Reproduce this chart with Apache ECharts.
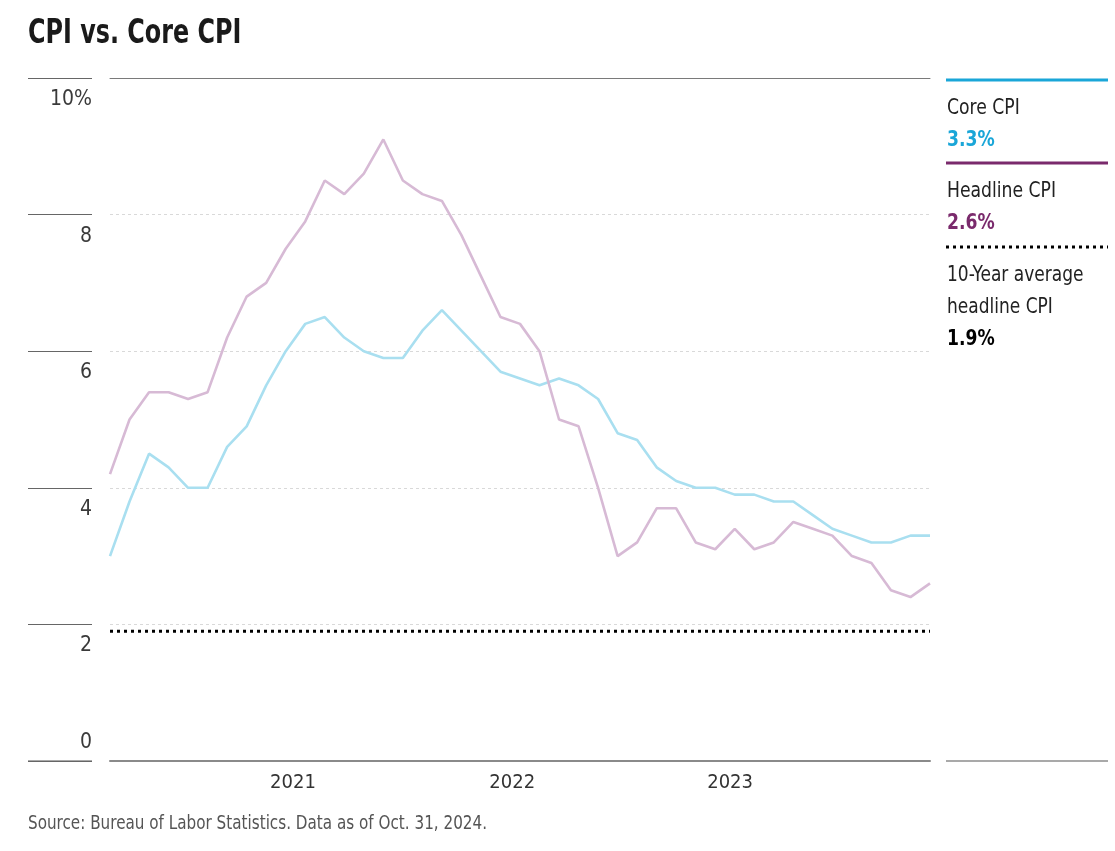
<!DOCTYPE html>
<html>
<head>
<meta charset="utf-8">
<script src="https://cdn.jsdelivr.net/npm/echarts@6/dist/echarts.min.js"></script>
<style>
html,body{margin:0;padding:0;background:#fff;}
#chart{width:1115px;height:851px;}
</style>
</head>
<body>
<div id="chart"></div>
<script>
// ---- data ----
var coreCPI = [3.0,3.8,4.5,4.3,4.0,4.0,4.6,4.9,5.5,6.0,6.4,6.5,6.2,6.0,5.9,5.9,6.3,6.6,6.3,6.0,5.7,5.6,5.5,5.6,5.5,5.3,4.8,4.7,4.3,4.1,4.0,4.0,3.9,3.9,3.8,3.8,3.6,3.4,3.3,3.2,3.2,3.3,3.3];
var headlineCPI = [4.2,5.0,5.4,5.4,5.3,5.4,6.2,6.8,7.0,7.5,7.9,8.5,8.3,8.6,9.1,8.5,8.3,8.2,7.7,7.1,6.5,6.4,6.0,5.0,4.9,4.0,3.0,3.2,3.7,3.7,3.2,3.1,3.4,3.1,3.2,3.5,3.4,3.3,3.0,2.9,2.5,2.4,2.6];
var tenYearAvg = 1.9;
var xTickPositions = [9.37, 20.6, 31.76];
var xTickLabels = ['2021', '2022', '2023'];
var yTicks = [0, 2, 4, 6, 8, 10];
var titleText = 'CPI vs. Core CPI';
var sourceText = 'Source: Bureau of Labor Statistics. Data as of Oct. 31, 2024.';
var legendNames = ['Core CPI', 'Headline CPI', '10-Year average\nheadline CPI'];

var FONT = "'Liberation Sans Narrow', 'DejaVu Sans Condensed', 'Roboto', sans-serif";
var coreData = coreCPI.map(function (v, i) { return [i, v]; });
var headData = headlineCPI.map(function (v, i) { return [i, v]; });
var lastIdx = coreCPI.length - 1;
var avgData = [[0, tenYearAvg], [lastIdx, tenYearAvg]];

var chart = echarts.init(document.getElementById('chart'), null, {renderer: 'canvas'});

var yMin = yTicks[0], yMax = yTicks[yTicks.length - 1], yInt = yTicks[1] - yTicks[0];

function txt(x, y, s, font, fill, sx, extra) {
  var st = {text: s, font: font, fill: fill};
  if (extra) { for (var k in extra) st[k] = extra[k]; }
  return {type: 'text', x: x, y: y, scaleX: sx, scaleY: 1, style: st, silent: true};
}

var option = {
  backgroundColor: '#ffffff',
  animation: false,
  grid: [
    {left: 110, right: 185, top: 78, bottom: 90},
    {left: 28, width: 64, top: 78, bottom: 90}
  ],
  xAxis: [
    {
      type: 'value', gridIndex: 0, min: 0, max: lastIdx,
      axisLine: {show: true, lineStyle: {color: '#8a8a8a', width: 2}},
      axisTick: {show: false},
      splitLine: {show: false},
      axisLabel: {
        show: true, customValues: xTickPositions, margin: 12,
        fontFamily: FONT, fontSize: 20, color: '#333',
        formatter: function (v) {
          var i = xTickPositions.indexOf(v);
          return i >= 0 ? xTickLabels[i] : '';
        }
      }
    },
    {
      type: 'value', gridIndex: 0, position: 'top', min: 0, max: lastIdx,
      axisLine: {show: true, lineStyle: {color: '#7a7a7a', width: 1}},
      axisTick: {show: false}, axisLabel: {show: false}, splitLine: {show: false}
    },
    {
      type: 'value', gridIndex: 1, min: 0, max: 1, show: false
    }
  ],
  yAxis: [
    {
      type: 'value', gridIndex: 0, min: yMin, max: yMax, interval: yInt,
      axisLine: {show: false}, axisTick: {show: false}, axisLabel: {show: false},
      splitLine: {show: true, lineStyle: {color: '#d9d9d9', type: [3, 3], width: 1}}
    },
    {
      type: 'value', gridIndex: 1, min: yMin, max: yMax, interval: yInt, position: 'right',
      axisLine: {show: false}, axisTick: {show: false},
      splitLine: {show: true, lineStyle: {color: '#666', width: 1.2}},
      axisLabel: {
        inside: true, margin: 0, verticalAlign: 'top', padding: [11, 0, 0, 0],
        fontFamily: FONT, fontSize: 21, color: '#3a3a3a',
        formatter: function (v) { return v === yMax ? v + '%' : (v === yMin ? '' : String(v)); }
      }
    },
    {
      type: 'value', gridIndex: 1, min: yMin, max: yMax, interval: yInt, position: 'right',
      axisLine: {show: false}, axisTick: {show: false}, splitLine: {show: false},
      axisLabel: {
        inside: true, margin: 0, verticalAlign: 'bottom', padding: [0, 0, 8, 0],
        fontFamily: FONT, fontSize: 21, color: '#3a3a3a',
        formatter: function (v) { return v === yMin ? String(v) : ''; }
      }
    }
  ],
  series: [
    {
      name: legendNames[2], type: 'line', xAxisIndex: 0, yAxisIndex: 0,
      data: avgData, symbol: 'none', silent: true,
      lineStyle: {color: '#000', width: 3, type: [3, 4], cap: 'butt'}
    },
    {
      name: legendNames[0], type: 'line', xAxisIndex: 0, yAxisIndex: 0,
      data: coreData, symbol: 'none',
      lineStyle: {color: '#a9dff0', width: 2.6}
    },
    {
      name: legendNames[1], type: 'line', xAxisIndex: 0, yAxisIndex: 0,
      data: headData, symbol: 'none',
      lineStyle: {color: '#d7bad5', width: 2.6}
    }
  ],
  graphic: [
    // title
    txt(28, 17, titleText, 'bold 34px ' + FONT, '#1a1a1a', 0.78),
    // right-hand key
    {type: 'line', shape: {x1: 946, y1: 80, x2: 1108, y2: 80}, style: {stroke: '#1aa6d8', lineWidth: 3}},
    txt(947, 97, legendNames[0], '22px ' + FONT, '#222', 0.87),
    txt(947, 129, coreCPI[lastIdx].toFixed(1) + '%', 'bold 22px ' + FONT, '#1aa6d8', 0.87),
    {type: 'line', shape: {x1: 946, y1: 163, x2: 1108, y2: 163}, style: {stroke: '#7a2a6c', lineWidth: 3}},
    txt(947, 180, legendNames[1], '22px ' + FONT, '#222', 0.87),
    txt(947, 212, headlineCPI[lastIdx].toFixed(1) + '%', 'bold 22px ' + FONT, '#7a2a6c', 0.87),
    {type: 'line', shape: {x1: 946, y1: 247, x2: 1108, y2: 247}, style: {stroke: '#000', lineWidth: 3, lineDash: [3, 4]}},
    txt(947, 259, legendNames[2], '22px ' + FONT, '#222', 0.86, {lineHeight: 32}),
    txt(947, 328, tenYearAvg.toFixed(1) + '%', 'bold 22px ' + FONT, '#000', 0.87),
    {type: 'line', shape: {x1: 946, y1: 761, x2: 1108, y2: 761}, style: {stroke: '#555', lineWidth: 1.2}},
    {type: 'line', shape: {x1: 28, y1: 761, x2: 92, y2: 761}, style: {stroke: '#555', lineWidth: 1.2}},
    // source
    txt(28, 815, sourceText, '19px ' + FONT, '#555', 0.89)
  ]
};
chart.setOption(option);
</script>
</body>
</html>
